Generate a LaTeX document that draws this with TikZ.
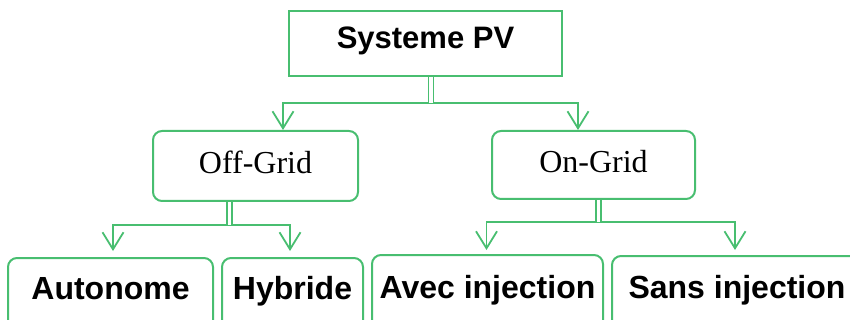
\documentclass[tikz,border=0pt]{standalone}
\usepackage{fontspec}
\setmainfont{Liberation Serif}
\newfontfamily\arialfont{Liberation Sans}
\usetikzlibrary{arrows.meta}
\definecolor{pvgreen}{RGB}{72,190,112}
\begin{document}
\begin{tikzpicture}[x=1pt,y=-1pt,
  box/.style={draw=pvgreen, line width=2pt, fill=white, inner xsep=0pt, inner ysep=0pt, anchor=north},
  rbox/.style={box, rounded corners=9pt},
  sanslab/.style={font=\arialfont\bfseries\fontsize{32}{36}\selectfont, text=black},
  serlab/.style={font=\fontsize{32}{36}\selectfont, text=black},
  conn/.style={draw=pvgreen, line width=1.8pt},
  arr/.style={conn, -{Straight Barb[length=17pt,width=21pt,line width=1.8pt]}},
  stem/.style={draw=pvgreen, line width=1.5pt, double=white, double distance=3.2pt}
]
\useasboundingbox (0,0) rectangle (850,320);
\clip (0,0) rectangle (850,320);

% nodes
\node[box, sanslab, font=\arialfont\bfseries\fontsize{31}{36}\selectfont, minimum width=273pt, text height=38pt, text depth=27pt] (sys) at (425.5,10) {Systeme PV};
\node[rbox, serlab, minimum width=205pt, text height=43pt, text depth=27pt] (off) at (255.5,130) {Off-Grid};
\node[rbox, serlab, minimum width=203pt, text height=42pt, text depth=26pt] (on) at (593.5,130) {On-Grid};
\node[rbox, sanslab, minimum width=205pt, text height=41pt, text depth=40pt] (auto) at (110.5,257) {Autonome};
\node[rbox, sanslab, minimum width=141pt, text height=41pt, text depth=40pt] (hyb) at (292.5,257) {Hybride};
\node[rbox, sanslab, minimum width=231pt, text height=43pt, text depth=40pt] (avec) at (487.5,254) {Avec injection};
\node[rbox, sanslab, minimum width=250pt, text height=42pt, text depth=40pt] (sans) at (737,255) {Sans injection};

% junctions
\coordinate (j1) at ([xshift=5.5pt]sys.south |- 0,103);
\coordinate (j2) at ([xshift=-26pt]off.south |- 0,225);
\coordinate (j3) at ([xshift=5pt]on.south |- 0,222);

% top level
\draw[arr] (j1) -| ([xshift=27.5pt]off.north);
\draw[arr] (j1) -| ([xshift=-15.5pt]on.north);
\draw[stem] ([xshift=5.5pt]sys.south) -- (j1);

% off-grid
\draw[arr, shorten >=6pt] (j2) -| ([xshift=2.5pt]auto.north);
\draw[arr, shorten >=6pt] (j2) -| ([xshift=-2.5pt]hyb.north);
\draw[stem] ([xshift=-26pt]off.south) -- (j2);

% on-grid
\draw[arr, shorten >=4pt] (j3) -| ([xshift=-1pt]avec.north);
\draw[arr, shorten >=5pt] (j3) -| ([xshift=-2pt]sans.north);
\draw[stem] ([xshift=5pt]on.south) -- (j3);
\end{tikzpicture}
\end{document}
